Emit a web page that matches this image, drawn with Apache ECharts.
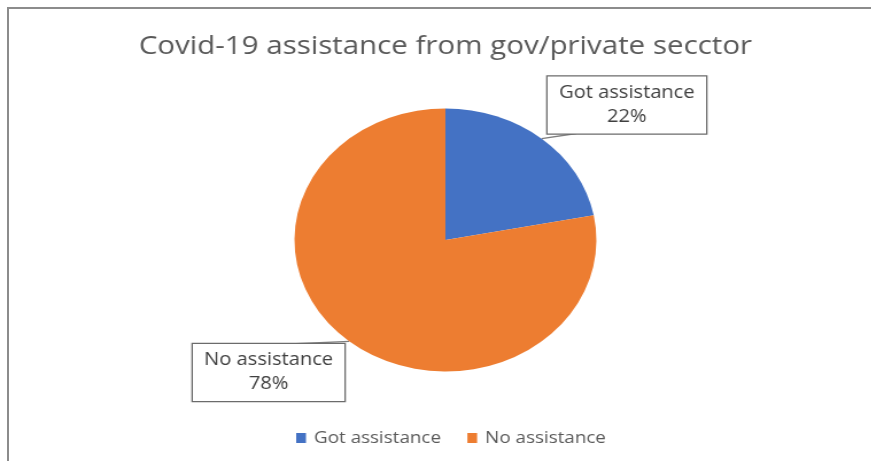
<!DOCTYPE html>
<html>
<head>
<meta charset="utf-8">
<title>Covid-19 assistance</title>
<script src="https://cdn.jsdelivr.net/npm/echarts@6/dist/echarts.min.js"></script>
<style>
  html, body { margin: 0; padding: 0; background: #fff; }
  body { width: 871px; height: 461px; overflow: hidden; position: relative; }
  #frame {
    position: absolute; left: 7px; top: 7px; right: -10px; bottom: -10px;
    border-top: 2px solid #8c8c8c; border-left: 2px solid #8c8c8c;
  }
  /* the chart is laid out on a narrower canvas and widened to the page */
  #chart {
    position: absolute; left: 0; top: 0; width: 776px; height: 461px;
    transform: scaleX(1.148); transform-origin: 0 0;
  }
</style>
</head>
<body>
<div id="frame"></div>
<div id="chart"></div>
<script>
const titleText = 'Covid-19 assistance from gov/private secctor';
const categories = ['Got assistance', 'No assistance'];
const shares = [22, 78];
const colors = ['#4472C4', '#ED7D31'];

// callout boxes: centre, size, and where the leader line meets the box (chart units)
const boxH = 57;
const callouts = [
  { x: 546, y: 105, w: 138, side: 'bottom', along: 0.18 },
  { x: 234, y: 372.5, w: 132, side: 'top', along: 0.64 }
];

const chart = echarts.init(document.getElementById('chart'), null, { renderer: 'canvas' });
const font = '"Open Sans", "Noto Sans", sans-serif';

chart.setOption({
  animation: false,
  color: colors,
  title: {
    text: titleText,
    left: 'center',
    top: 29,
    textStyle: { fontFamily: font, fontSize: 25.7, fontWeight: 'normal', color: '#595959' }
  },
  legend: {
    data: categories,
    left: 253,
    top: 425,
    icon: 'rect',
    itemWidth: 8.5,
    itemHeight: 10,
    itemGap: 23,
    textStyle: { fontFamily: font, fontSize: 16.4, color: '#595959', padding: [0, 0, 0, 2] }
  },
  series: [{
    type: 'pie',
    center: [388, 240],
    radius: 131.5,
    startAngle: 90,
    clockwise: true,
    data: categories.map((name, i) => ({
      name,
      value: shares[i],
      label: { width: callouts[i].w - 16 }
    })),
    itemStyle: { borderWidth: 0 },
    label: {
      show: true,
      position: 'outside',
      formatter: p => p.name + '\n' + Math.round(p.percent) + '%',
      fontFamily: font,
      fontSize: 17.5,
      lineHeight: 24,
      color: '#404040',
      align: 'center',
      overflow: 'none',
      padding: [(boxH - 48) / 2 + 1, 8, (boxH - 48) / 2 - 1, 8],
      backgroundColor: '#fff',
      borderColor: '#6b6b6b',
      borderWidth: 1.3
    },
    labelLine: { show: false },
    labelLayout: p => ({
      x: callouts[p.dataIndex].x,
      y: callouts[p.dataIndex].y,
      align: 'center',
      verticalAlign: 'middle'
    }),
    emphasis: { disabled: true }
  }]
});

// leader lines: from the middle of each slice's rim to the edge of its callout box
const sliceData = chart.getModel().getSeriesByIndex(0).getData();
const leaders = categories.map((name, i) => {
  const lay = sliceData.getItemLayout(i);
  const mid = (lay.startAngle + lay.endAngle) / 2;
  const ax = lay.cx + lay.r * Math.cos(mid);
  const ay = lay.cy + lay.r * Math.sin(mid);
  const c = callouts[i];
  const bx = c.x - c.w / 2 + c.w * c.along;
  const by = c.side === 'bottom' ? c.y + boxH / 2 : c.y - boxH / 2;
  return {
    type: 'polyline',
    z: 1,
    silent: true,
    shape: { points: [[ax, ay], [bx, by]] },
    style: { stroke: '#7f7f7f', lineWidth: 1.3, fill: null }
  };
});
chart.setOption({ graphic: leaders });
</script>
</body>
</html>
